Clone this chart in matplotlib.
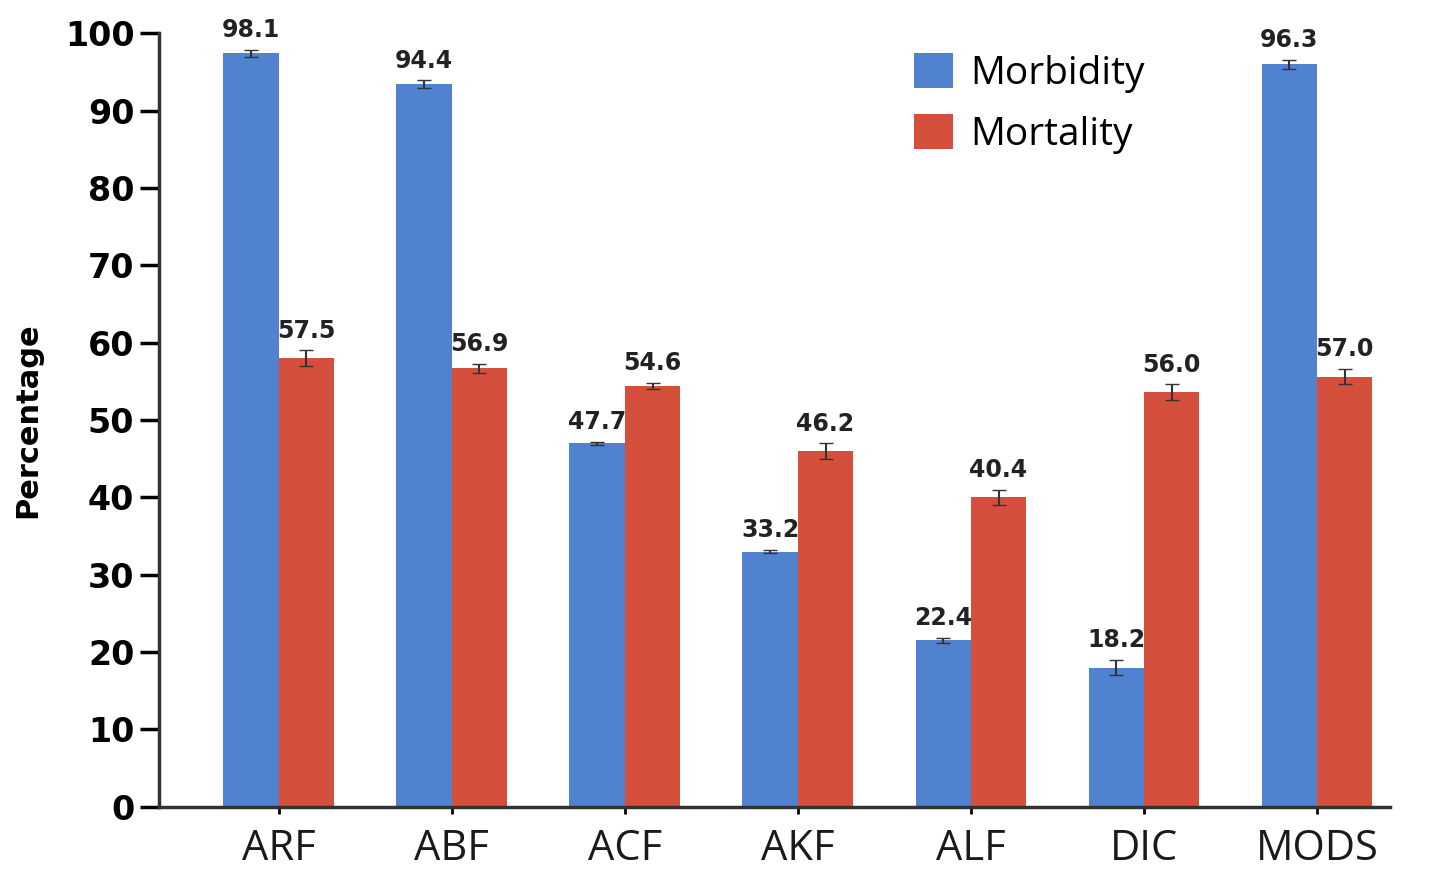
import numpy as np
import matplotlib
matplotlib.use('Agg')
import matplotlib.pyplot as plt

categories = ['ARF', 'ABF', 'ACF', 'AKF', 'ALF', 'DIC', 'MODS']
# bar heights as drawn in the picture
morbidity = [97.4, 93.4, 47.0, 33.0, 21.5, 18.0, 96.0]
mortality = [58.0, 56.7, 54.4, 46.0, 40.0, 53.6, 55.6]
# printed value labels
morbidity_lbl = ['98.1', '94.4', '47.7', '33.2', '22.4', '18.2', '96.3']
mortality_lbl = ['57.5', '56.9', '54.6', '46.2', '40.4', '56.0', '57.0']
morbidity_err = [0.5, 0.5, 0.2, 0.2, 0.3, 1.0, 0.6]
mortality_err = [1.0, 0.6, 0.4, 1.0, 1.0, 1.0, 1.0]

blue = '#5182cf'
red = '#d4503c'

fig = plt.figure(figsize=(14.49, 8.76), dpi=100)
ax = fig.add_axes([0.110, 0.079, 0.849, 0.883])

x = np.arange(len(categories))
w = 0.32
ax.bar(x - w/2, morbidity, w, color=blue, label='Morbidity',
       yerr=morbidity_err, capsize=5, error_kw=dict(ecolor='#333333', lw=1.5))
ax.bar(x + w/2, mortality, w, color=red, label='Mortality',
       yerr=mortality_err, capsize=5, error_kw=dict(ecolor='#333333', lw=1.5))

for xi, h, e, t in zip(x - w/2, morbidity, morbidity_err, morbidity_lbl):
    ax.text(xi, h + e + 1.0, t, ha='center', va='bottom', fontsize=17,
            fontweight='bold', color='#222222', clip_on=False)
for xi, h, e, t in zip(x + w/2, mortality, mortality_err, mortality_lbl):
    ax.text(xi, h + e + 1.0, t, ha='center', va='bottom', fontsize=17,
            fontweight='bold', color='#222222', clip_on=False)

ax.set_xlim(-0.69, 6.42)
ax.set_ylim(0, 100)
ax.set_yticks(range(0, 101, 10))
ax.set_xticks(x)
ax.set_xticklabels(categories, fontsize=30, color='#1a1a1a', family='Open Sans')
for lab in ax.get_yticklabels():
    lab.set_fontsize(24)
    lab.set_fontweight('bold')
ax.tick_params(axis='y', direction='out', length=14, width=2.5, pad=4)
ax.tick_params(axis='x', direction='out', length=5, width=2, pad=10)

ax.spines['top'].set_visible(False)
ax.spines['right'].set_visible(False)
ax.spines['left'].set_linewidth(2.5)
ax.spines['bottom'].set_linewidth(2.5)
ax.spines['left'].set_color('#333333')
ax.spines['bottom'].set_color('#333333')

ax.set_ylabel('Percentage', fontsize=22, fontweight='bold', labelpad=16)

ax.legend(loc='upper left', bbox_to_anchor=(0.585, 1.02), frameon=False,
          prop=dict(family='Open Sans', size=28), handlelength=1.0,
          handleheight=1.0, handletextpad=0.45, labelspacing=0.55)

plt.savefig('out.png', dpi=100)
